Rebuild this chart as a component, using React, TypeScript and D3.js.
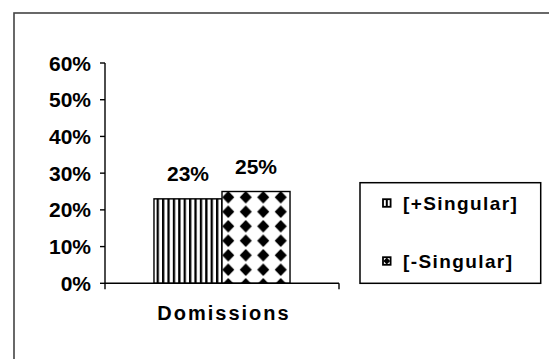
import React from "react";
import * as d3 from "d3";

const categories = ["Domissions"];
const seriesNames = ["[+Singular]", "[-Singular]"];
const seriesValues = [0.23, 0.25];
const dataLabels = ["23%", "25%"];
const yTicks = [0, 0.1, 0.2, 0.3, 0.4, 0.5, 0.6];

const W = 549;
const H = 359;
const FONT = "'Liberation Sans', Arial, sans-serif";

export default function App() {
  const plotLeft = 105;
  const plotRight = 339;
  const plotBottom = 283.3;
  const plotTop = 63;

  const y = d3.scaleLinear().domain([0, 0.6]).range([plotBottom, plotTop]);
  const x = d3.scaleBand().domain(categories).range([plotLeft, plotRight]);
  const xs = d3
    .scaleBand()
    .domain(seriesNames)
    .range([0, x.bandwidth()])
    .paddingInner(0)
    .paddingOuter(0.72);

  const cat = categories[0];
  const bw = xs.bandwidth();
  const bar2x = (x(cat) ?? 0) + (xs(seriesNames[1]) ?? 0);

  return (
    <svg
      width={W}
      height={H}
      style={{ position: "absolute", left: 0, top: 0, background: "#fff" }}
      fontFamily={FONT}
    >
      <defs>
        <pattern id="vstripe" patternUnits="userSpaceOnUse" x={0} y={0} width={5.4} height={10}>
          <rect x={0} y={0} width={5.4} height={10} fill="#fff" />
          <rect x={0} y={0} width={2.3} height={10} fill="#000" />
        </pattern>
        <pattern
          id="diamond"
          patternUnits="userSpaceOnUse"
          x={bar2x - 2.5}
          y={y(seriesValues[1]) - 1.5}
          width={17.5}
          height={14.5}
        >
          <rect x={0} y={0} width={17.5} height={14.5} fill="#fff" />
          <path d="M8.75,1 L14.8,7.25 L8.75,13.5 L2.7,7.25 Z" fill="#000" />
        </pattern>
      </defs>

      {/* outer frame */}
      <rect x={14} y={13} width={700} height={500} fill="none" stroke="#444" strokeWidth={1.6} />

      {/* y axis */}
      <line x1={plotLeft} x2={plotLeft} y1={plotTop} y2={plotBottom + 6} stroke="#000" strokeWidth={1.4} />
      {yTicks.map((t) => (
        <g key={t}>
          <line x1={plotLeft - 5} x2={plotLeft} y1={y(t)} y2={y(t)} stroke="#000" strokeWidth={1.4} />
          <text
            x={91}
            y={y(t)}
            textAnchor="end"
            dominantBaseline="central"
            fontSize={21}
            fontWeight="bold"
            fill="#000"
          >
            {d3.format(".0%")(t)}
          </text>
        </g>
      ))}

      {/* bars */}
      {seriesNames.map((s, i) => {
        const bx = (x(cat) ?? 0) + (xs(s) ?? 0);
        const by = y(seriesValues[i]);
        return (
          <g key={s}>
            <rect
              x={bx}
              y={by}
              width={bw}
              height={plotBottom - by}
              fill={i === 0 ? "url(#vstripe)" : "url(#diamond)"}
              stroke="#000"
              strokeWidth={1.4}
            />
            <text
              x={bx + bw / 2}
              y={by - 17.5}
              textAnchor="middle"
              fontSize={21}
              fontWeight="bold"
              fill="#000"
            >
              {dataLabels[i]}
            </text>
          </g>
        );
      })}

      {/* x axis */}
      <line x1={plotLeft} x2={plotRight} y1={plotBottom} y2={plotBottom} stroke="#000" strokeWidth={1.4} />
      <line x1={plotRight} x2={plotRight} y1={plotBottom} y2={plotBottom + 6} stroke="#000" strokeWidth={1.4} />
      <text
        x={(x(cat) ?? 0) + x.bandwidth() / 2 + 2}
        y={320}
        textAnchor="middle"
        fontSize={20}
        fontWeight="bold"
        letterSpacing={2}
        fill="#000"
      >
        {cat}
      </text>

      {/* legend */}
      <rect x={360} y={182.7} width={180.7} height={100.6} fill="#fff" stroke="#000" strokeWidth={1.5} />
      {seriesNames.map((s, i) => {
        const cy = 203 + i * 58;
        return (
          <g key={s}>
            <rect x={383} y={cy - 3.8} width={7.6} height={7.6} fill="#fff" stroke="#000" strokeWidth={1.8} />
            {i === 0 ? (
              <line x1={386.8} x2={386.8} y1={cy - 3.8} y2={cy + 3.8} stroke="#000" strokeWidth={2} />
            ) : (
              <path
                d={`M386.8,${cy - 3.4} L390.2,${cy} L386.8,${cy + 3.4} L383.4,${cy} Z`}
                fill="#000"
              />
            )}
            <text
              x={403}
              y={cy}
              dominantBaseline="central"
              fontSize={19}
              fontWeight="bold"
              letterSpacing={1.4}
              fill="#000"
            >
              {s}
            </text>
          </g>
        );
      })}
    </svg>
  );
}
